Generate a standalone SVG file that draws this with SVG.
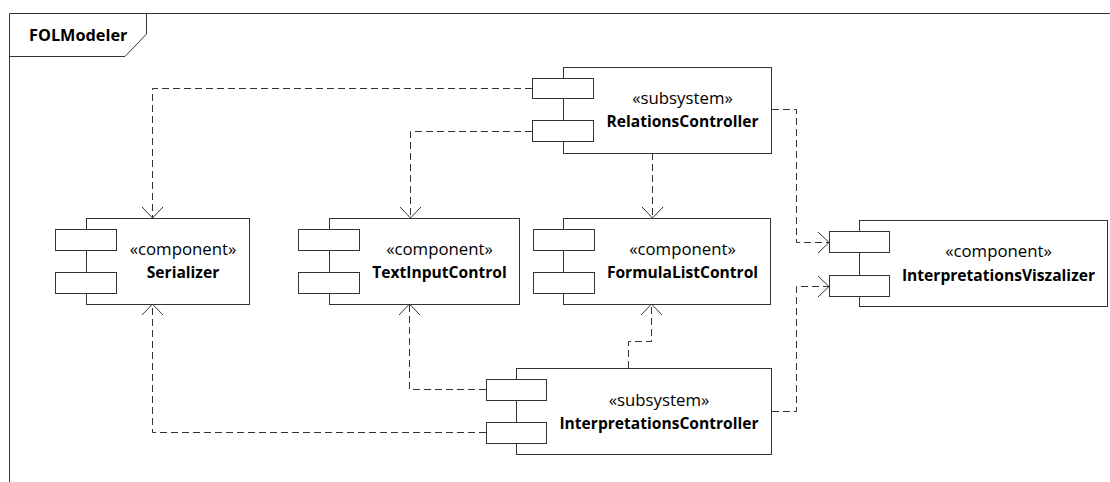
<svg xmlns="http://www.w3.org/2000/svg" width="1110" height="482" viewBox="0 0 1110 482">
  <defs>
    <style>
      .frame { fill: none; stroke: #333; stroke-width: 1; }
      .box { fill: #fff; stroke: #333; stroke-width: 1; }
      .port { fill: #fff; stroke: #333; stroke-width: 1; }
      .dep { fill: none; stroke: #333; stroke-width: 1; stroke-dasharray: 7 4; }
      .stereo { font-family: "Open Sans", "Liberation Sans", sans-serif; font-size: 16.8px; fill: #000; text-anchor: middle; }
      .name { font-family: "Open Sans", "Liberation Sans", sans-serif; font-size: 15.6px; font-weight: bold; fill: #000; text-anchor: middle; }
      .title { font-family: "Open Sans", "Liberation Sans", sans-serif; font-size: 16.3px; font-weight: bold; fill: #000; }
    </style>
    <marker id="open" viewBox="0 0 12 24" refX="11.5" refY="12" markerWidth="12" markerHeight="24" markerUnits="userSpaceOnUse" orient="auto">
      <path d="M0.5,1.5 L11.5,12 L0.5,22.5" fill="none" stroke="#333" stroke-width="1"/>
    </marker>
  </defs>
  <rect width="1110" height="482" fill="#fff"/>

  <!-- package frame -->
  <g id="frame">
    <path class="frame" d="M9.5,482 V13.5 H1110"/>
    <path class="frame" d="M9.5,56.5 H125 L146.5,34 V13.5"/>
    <text class="title" x="29" y="41">FOLModeler</text>
  </g>

  <!-- dependencies -->
  <g id="connectors">
    <path class="dep" d="M532,88.5 H152.5 V218" marker-end="url(#open)"/>
    <path class="dep" d="M532,131.5 H410.5 V218" marker-end="url(#open)"/>
    <path class="dep" d="M652.5,153 V218" marker-end="url(#open)"/>
    <path class="dep" d="M772,109.5 H796.5 V242.5 H829" marker-end="url(#open)"/>
    <path class="dep" d="M486,389.5 H409.5 V304" marker-end="url(#open)"/>
    <path class="dep" d="M628.5,368 V341.5 H651.5 V304" marker-end="url(#open)"/>
    <path class="dep" d="M772,411.5 H796.5 V286.5 H829" marker-end="url(#open)"/>
    <path class="dep" d="M486,432.5 H152.5 V304" marker-end="url(#open)"/>
  </g>

  <g id="RelationsController">
    <rect class="box" x="563.5" y="67.5" width="208" height="86"/>
    <rect class="port" x="532.5" y="78.5" width="61" height="20"/>
    <rect class="port" x="532.5" y="120.5" width="61" height="21"/>
    <text class="stereo" x="682.5" y="104">«subsystem»</text>
    <text class="name" x="682.5" y="127">RelationsController</text>
  </g>

  <g id="Serializer">
    <rect class="box" x="86.5" y="218.5" width="163" height="86"/>
    <rect class="port" x="55.5" y="229.5" width="61" height="21"/>
    <rect class="port" x="55.5" y="272.5" width="61" height="21"/>
    <text class="stereo" x="183" y="255">«component»</text>
    <text class="name" x="183" y="278">Serializer</text>
  </g>

  <g id="TextInputControl">
    <rect class="box" x="329.5" y="218.5" width="190" height="86"/>
    <rect class="port" x="298.5" y="229.5" width="61" height="21"/>
    <rect class="port" x="298.5" y="272.5" width="61" height="21"/>
    <text class="stereo" x="439.5" y="255">«component»</text>
    <text class="name" x="439.5" y="278">TextInputControl</text>
  </g>

  <g id="FormulaListControl">
    <rect class="box" x="563.5" y="218.5" width="207" height="86"/>
    <rect class="port" x="533.5" y="229.5" width="61" height="21"/>
    <rect class="port" x="533.5" y="272.5" width="61" height="21"/>
    <text class="stereo" x="682.5" y="255">«component»</text>
    <text class="name" x="682.5" y="278">FormulaListControl</text>
  </g>

  <g id="InterpretationsViszalizer">
    <rect class="box" x="859.5" y="220.5" width="248" height="86"/>
    <rect class="port" x="829.5" y="231.5" width="60" height="21"/>
    <rect class="port" x="829.5" y="275.5" width="60" height="21"/>
    <text class="stereo" x="998.5" y="257">«component»</text>
    <text class="name" x="998.5" y="281">InterpretationsViszalizer</text>
  </g>

  <g id="InterpretationsController">
    <rect class="box" x="516.5" y="368.5" width="255" height="86"/>
    <rect class="port" x="486.5" y="379.5" width="60" height="21"/>
    <rect class="port" x="486.5" y="422.5" width="60" height="21"/>
    <text class="stereo" x="659" y="405.5">«subsystem»</text>
    <text class="name" x="659" y="428.5">InterpretationsController</text>
  </g>
</svg>
